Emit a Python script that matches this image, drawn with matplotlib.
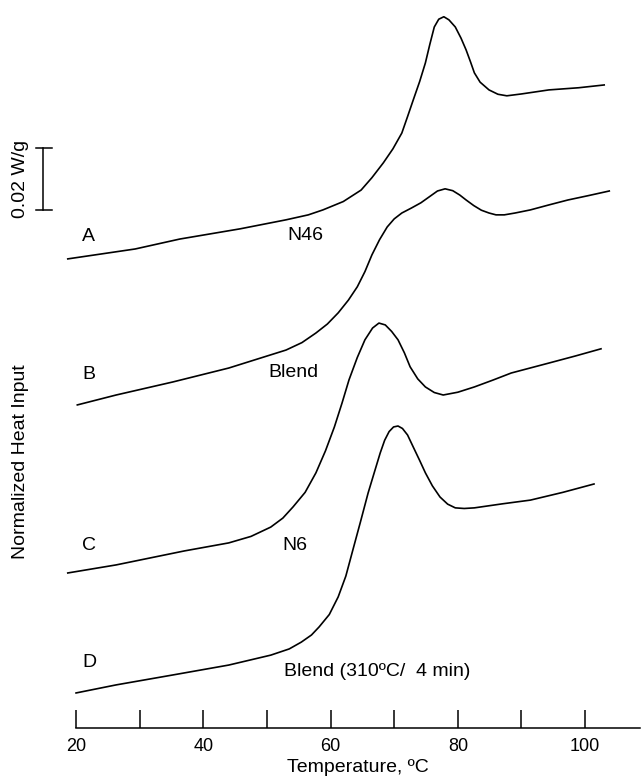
import matplotlib
matplotlib.use("Agg")
import matplotlib.pyplot as plt

plt.rcParams['font.family'] = ['Liberation Sans', 'DejaVu Sans']

# DSC traces, temperature (C) vs heat input (mW/g, stacked offsets)
temp_a = [18.7, 24.0, 29.3, 36.3, 45.8, 53.0, 56.5, 58.8, 62.0, 64.8, 66.5, 68.3,
          69.8, 71.2, 72.1, 73.0, 74.0, 74.9, 75.6, 76.3, 77.0, 77.8, 78.6, 79.6,
          80.5, 81.3, 82.0, 82.6, 83.5, 84.9, 86.3, 87.7, 90.0, 94.3, 99.0, 103.0]
heat_a = [151.3, 152.9, 154.5, 157.7, 161.0, 163.9, 165.5, 167.1, 169.8, 173.5, 177.5, 182.3,
          186.8, 191.9, 197.2, 202.6, 208.5, 214.5, 220.5, 226.1, 228.6, 229.4, 228.4, 226.1,
          222.5, 218.7, 214.8, 211.3, 208.3, 205.8, 204.4, 203.9, 204.5, 205.8, 206.5, 207.4]

temp_b = [20.2, 26.3, 35.2, 44.0, 53.0, 55.5, 57.7, 59.5, 61.2, 62.8, 64.2, 65.4,
          66.5, 67.7, 68.9, 70.0, 71.2, 72.7, 74.2, 75.5, 76.8, 78.0, 79.2, 80.3,
          81.3, 82.5, 83.7, 84.9, 86.0, 87.3, 89.0, 91.4, 94.3, 97.3, 100.5, 103.8]
heat_b = [104.2, 107.4, 111.6, 116.1, 121.9, 124.3, 127.4, 130.3, 133.9, 138.0, 142.3, 147.2,
          152.6, 157.5, 161.6, 164.2, 166.1, 167.7, 169.4, 171.3, 173.2, 173.9, 173.3, 171.9,
          170.3, 168.5, 167.0, 166.1, 165.5, 165.5, 166.1, 167.1, 168.7, 170.3, 171.7, 173.2]

temp_c = [18.7, 26.3, 37.0, 44.0, 47.5, 50.6, 52.5, 54.1, 56.0, 57.7, 59.2, 60.6,
          61.8, 62.9, 64.2, 65.4, 66.6, 67.6, 68.6, 69.6, 70.6, 71.6, 72.5, 73.7,
          74.9, 76.3, 77.7, 80.0, 82.6, 85.5, 88.4, 94.3, 98.5, 102.5]
heat_c = [50.0, 52.6, 57.1, 59.7, 61.8, 64.8, 67.7, 71.3, 76.0, 82.3, 89.4, 97.1,
          104.8, 112.3, 119.5, 125.2, 129.0, 130.6, 130.0, 127.9, 125.2, 121.0, 116.5, 112.6,
          110.0, 108.2, 107.4, 108.3, 110.0, 112.2, 114.5, 117.7, 120.0, 122.3]

temp_d = [20.0, 26.3, 35.2, 44.0, 50.6, 53.5, 55.4, 57.0, 58.2, 59.8, 61.2, 62.4,
          63.5, 64.7, 65.9, 66.9, 67.8, 68.5, 69.2, 69.9, 70.6, 71.3, 72.1, 73.0,
          74.0, 74.9, 76.0, 77.2, 78.4, 79.6, 81.0, 82.6, 87.0, 91.4, 96.5, 101.4]
heat_d = [11.3, 13.9, 17.1, 20.3, 23.5, 25.5, 27.7, 30.0, 32.6, 36.6, 42.3, 49.0,
          57.4, 66.5, 75.8, 82.6, 88.7, 92.8, 95.6, 97.1, 97.4, 96.6, 94.5, 90.6,
          86.3, 82.3, 78.1, 74.5, 72.2, 71.0, 70.8, 71.0, 72.3, 73.5, 76.0, 78.7]

letters = ['A', 'B', 'C', 'D']
names = ['N46', 'Blend', 'N6', 'Blend (310ºC/  4 min)']
letter_y = [158.4, 113.9, 59.0, 21.0]
name_x = [53.2, 50.3, 52.5, 52.7]
name_y = [159.0, 114.5, 59.0, 18.1]

major_ticks = [20, 40, 60, 80, 100]
minor_ticks = [30, 50, 70, 90]

fig = plt.figure(figsize=(6.43, 7.79), dpi=100)
ax = fig.add_axes([0, 51 / 779, 1, 728 / 779])
ax.set_xlim(8.05, 109.1)
ax.set_ylim(0, 234.8)

for t, h in [(temp_a, heat_a), (temp_b, heat_b), (temp_c, heat_c), (temp_d, heat_d)]:
    ax.plot(t, h, color='black', lw=1.2, solid_joinstyle='round')

for lab, ly, nm, nx, ny in zip(letters, letter_y, names, name_x, name_y):
    ax.text(21.0, ly, lab, fontsize=14, ha='left', va='center')
    ax.text(nx, ny, nm, fontsize=14, ha='left', va='center')

# scale bar 0.02 W/g = 20 mW/g
ax.plot([14.8, 14.8], [167.1, 187.1], color='black', lw=1.1)
ax.plot([13.7, 16.2], [167.1, 167.1], color='black', lw=1.1)
ax.plot([13.7, 16.2], [187.1, 187.1], color='black', lw=1.1)
ax.text(11.2, 177.0, '0.02 W/g', rotation=90, fontsize=14, ha='center', va='center')

ax.text(11.2, 85.8, 'Normalized Heat Input', rotation=90, fontsize=14, ha='center', va='center')

for s in ['left', 'right', 'top']:
    ax.spines[s].set_visible(False)
ax.spines['bottom'].set_bounds(20, 108.7)
ax.spines['bottom'].set_linewidth(1.1)
ax.set_yticks([])
ax.set_xticks(major_ticks)
ax.set_xticks(minor_ticks, minor=True)
ax.tick_params(axis='x', which='both', direction='in', length=13, width=1.1, pad=7,
               labelsize=13)

fig.text(358 / 643, 1 - 767 / 779, 'Temperature, ºC', fontsize=14, ha='center', va='center')

fig.savefig('out.png', dpi=100)
